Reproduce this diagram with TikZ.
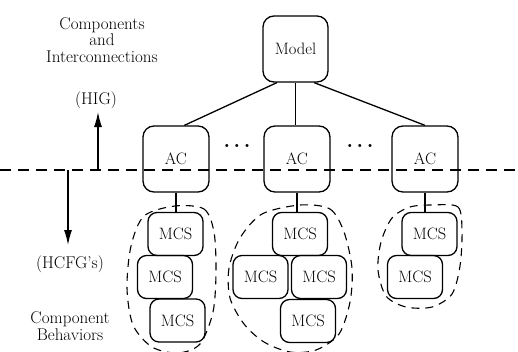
\documentclass[tikz,border=0pt]{standalone}
\usepackage{tikz}
\usetikzlibrary{arrows.meta}
\tikzset{
  box/.style={draw, line width=1.3pt, rounded corners=11pt, inner sep=0pt, font=\fontsize{16.5}{18}\selectfont},
  acbox/.style={box, minimum width=66pt, minimum height=66pt},
  mcsbox/.style={box, rounded corners=9pt, minimum width=55pt, minimum height=43pt},
  group/.style={line width=1.1pt, dash pattern=on 8pt off 6pt},
  lbl/.style={align=center, font=\fontsize{17}{16.5}\selectfont}
}

\begin{document}
\begin{tikzpicture}[x=1pt, y=-1pt, line width=1.3pt]
            \useasboundingbox (0,0) rectangle (518,351);
            % coordinates
            \coordinate (level-left) at (0,170);
            \coordinate (level-right) at (518,170);
            \coordinate (hig-start) at (98,170);
            \coordinate (hig-end) at (98,112);
            \coordinate (hcfg-start) at (68,170);
            \coordinate (hcfg-end) at (68,245);
            % model and abstract components
            \node[acbox, minimum width=65pt] (model) at (295.5,49) {Model};
            \node[acbox] (ac1) at (176,159) {AC};
            \node[acbox] (ac2) at (297,159) {AC};
            \node[acbox] (ac3) at (425,159) {AC};
            \node[lbl, font=\fontsize{21}{21}\selectfont] (dots1) at (237,146) {\textbf{.\,.\,.}};
            \node[lbl, font=\fontsize{21}{21}\selectfont] (dots2) at (360,146) {\textbf{.\,.\,.}};
            \draw (model.-119) -- (ac1.76);
            \draw (model.south) -- (model.south |- ac2.north);
            \draw (model.-61) -- (ac3.north);
            % level line
            \draw[line width=1.6pt, dash pattern=on 11pt off 7pt] (level-left) -- (level-right);
            % arrows and level names
            \draw[-{Latex[length=15pt, width=8pt]}] (hig-start) -- (hig-end);
            \draw[-{Latex[length=15pt, width=8pt]}] (hcfg-start) -- (hcfg-end);
            \node[lbl] (hig) at (96,100) {(HIG)};
            \node[lbl] (hcfg) at (70,264) {(HCFG's)};
            \node[lbl] (top-text) at (102,40) {Components\\and\\Interconnections};
            \node[lbl] (bottom-text) at (70,326) {Component\\Behaviors};
            % first behavior group
            \node[mcsbox] (m11) at (175.5,234) {MCS};
            \node[mcsbox] (m12) at (165,277) {MCS};
            \node[mcsbox] (m13) at (177.5,320.5) {MCS};
            \draw (ac1.south) -- (ac1.south |- m11.north);
            \draw[group] plot[smooth cycle] coordinates {(175,206) (204,209) (214,232) (216,272) (213,312) (200,344) (178,353) (152,347) (133,325) (127,288) (131,246) (144,216)};
            % second behavior group
            \node[mcsbox] (m21) at (300,234) {MCS};
            \node[mcsbox] (m22) at (260.5,277) {MCS};
            \node[mcsbox] (m23) at (319,277) {MCS};
            \node[mcsbox] (m24) at (308,321) {MCS};
            \draw (ac2.south) -- (ac2.south |- m21.north);
            \draw[group] plot[smooth cycle] coordinates {(300,205) (330,209) (344,232) (352,268) (350,302) (339,334) (316,350) (290,352) (264,342) (244,324) (230,298) (229,268) (240,238) (262,214)};
            % third behavior group
            \node[mcsbox] (m31) at (429.5,234) {MCS};
            \node[mcsbox] (m32) at (415,277) {MCS};
            \draw (ac3.south) -- (ac3.south |- m31.north);
            \draw[group] plot[smooth cycle] coordinates {(432,205) (458,207) (462,232) (460,266) (452,294) (432,307) (406,307) (386,296) (378,270) (381,242) (392,218) (410,207)};
        \end{tikzpicture}
\end{document}
